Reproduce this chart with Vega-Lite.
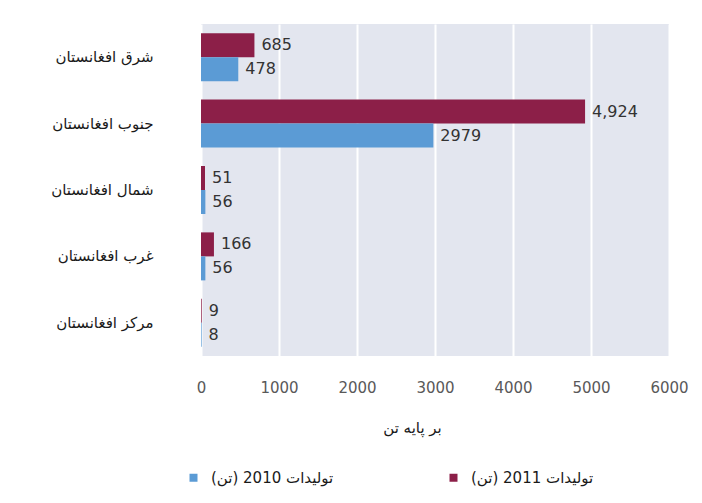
{
  "$schema": "https://vega.github.io/schema/vega-lite/v6.json",
  "width": 468,
  "height": 332,
  "autosize": {"type": "none"},
  "padding": {"left": 201, "top": 24, "right": 33, "bottom": 147},
  "background": "white",
  "config": {
    "view": {"fill": "#E3E6EF", "stroke": null},
    "font": "DejaVu Sans"
  },
  "data": {
    "values": [
      {"region": "شرق افغانستان", "year": "2011", "series": "‫تولیدات 2011 (تن)‬", "value": 685, "label": "685"},
      {"region": "شرق افغانستان", "year": "2010", "series": "‫تولیدات 2010 (تن)‬", "value": 478, "label": "478"},
      {"region": "جنوب افغانستان", "year": "2011", "series": "‫تولیدات 2011 (تن)‬", "value": 4924, "label": "4,924"},
      {"region": "جنوب افغانستان", "year": "2010", "series": "‫تولیدات 2010 (تن)‬", "value": 2979, "label": "2979"},
      {"region": "شمال افغانستان", "year": "2011", "series": "‫تولیدات 2011 (تن)‬", "value": 51, "label": "51"},
      {"region": "شمال افغانستان", "year": "2010", "series": "‫تولیدات 2010 (تن)‬", "value": 56, "label": "56"},
      {"region": "غرب افغانستان", "year": "2011", "series": "‫تولیدات 2011 (تن)‬", "value": 166, "label": "166"},
      {"region": "غرب افغانستان", "year": "2010", "series": "‫تولیدات 2010 (تن)‬", "value": 56, "label": "56"},
      {"region": "مرکز افغانستان", "year": "2011", "series": "‫تولیدات 2011 (تن)‬", "value": 9, "label": "9"},
      {"region": "مرکز افغانستان", "year": "2010", "series": "‫تولیدات 2010 (تن)‬", "value": 8, "label": "8"}
    ]
  },
  "encoding": {
    "y": {
      "field": "region",
      "type": "nominal",
      "sort": ["شرق افغانستان", "جنوب افغانستان", "شمال افغانستان", "غرب افغانستان", "مرکز افغانستان"],
      "scale": {"paddingInner": 0.277, "paddingOuter": 0.139},
      "axis": {"title": null, "ticks": false, "domain": false, "grid": false, "labelPadding": 48, "labelFontSize": 15, "labelColor": "#1a1a1a"}
    },
    "yOffset": {
      "field": "year",
      "type": "nominal",
      "sort": ["2011", "2010"],
      "scale": {"paddingInner": 0, "paddingOuter": 0}
    },
    "x": {
      "field": "value",
      "type": "quantitative",
      "scale": {"domain": [0, 6000], "nice": false},
      "axis": {
        "values": [0, 1000, 2000, 3000, 4000, 5000, 6000],
        "format": "d",
        "ticks": false,
        "domain": false,
        "labelFlush": false,
        "labelOverlap": false,
        "gridColor": "#ffffff",
        "gridWidth": 2,
        "labelFontSize": 15,
        "labelColor": "#595959",
        "labelPadding": 24,
        "title": "بر پایه تن",
        "titleFontSize": 15,
        "titleFontWeight": "normal",
        "titleColor": "#1a1a1a",
        "titleX": 211,
        "titleY": 71,
        "titleBaseline": "middle"
      }
    }
  },
  "layer": [
    {
      "mark": {"type": "bar"},
      "encoding": {
        "color": {
          "field": "series",
          "type": "nominal",
          "scale": {"domain": ["‫تولیدات 2010 (تن)‬", "‫تولیدات 2011 (تن)‬"], "range": ["#5B9BD5", "#8C1F48"]},
          "legend": {
            "title": null,
            "orient": "none",
            "direction": "horizontal",
            "legendX": -15,
            "legendY": 446,
            "symbolType": "square",
            "symbolSize": 64,
            "symbolStrokeWidth": 0,
            "labelFontSize": 15,
            "labelColor": "#1a1a1a",
            "labelOffset": 10,
            "columnPadding": 112
          }
        }
      }
    },
    {
      "mark": {"type": "text", "align": "left", "baseline": "middle", "dx": 7, "fontSize": 16, "color": "#333333"},
      "encoding": {"text": {"field": "label", "type": "nominal"}}
    }
  ]
}
